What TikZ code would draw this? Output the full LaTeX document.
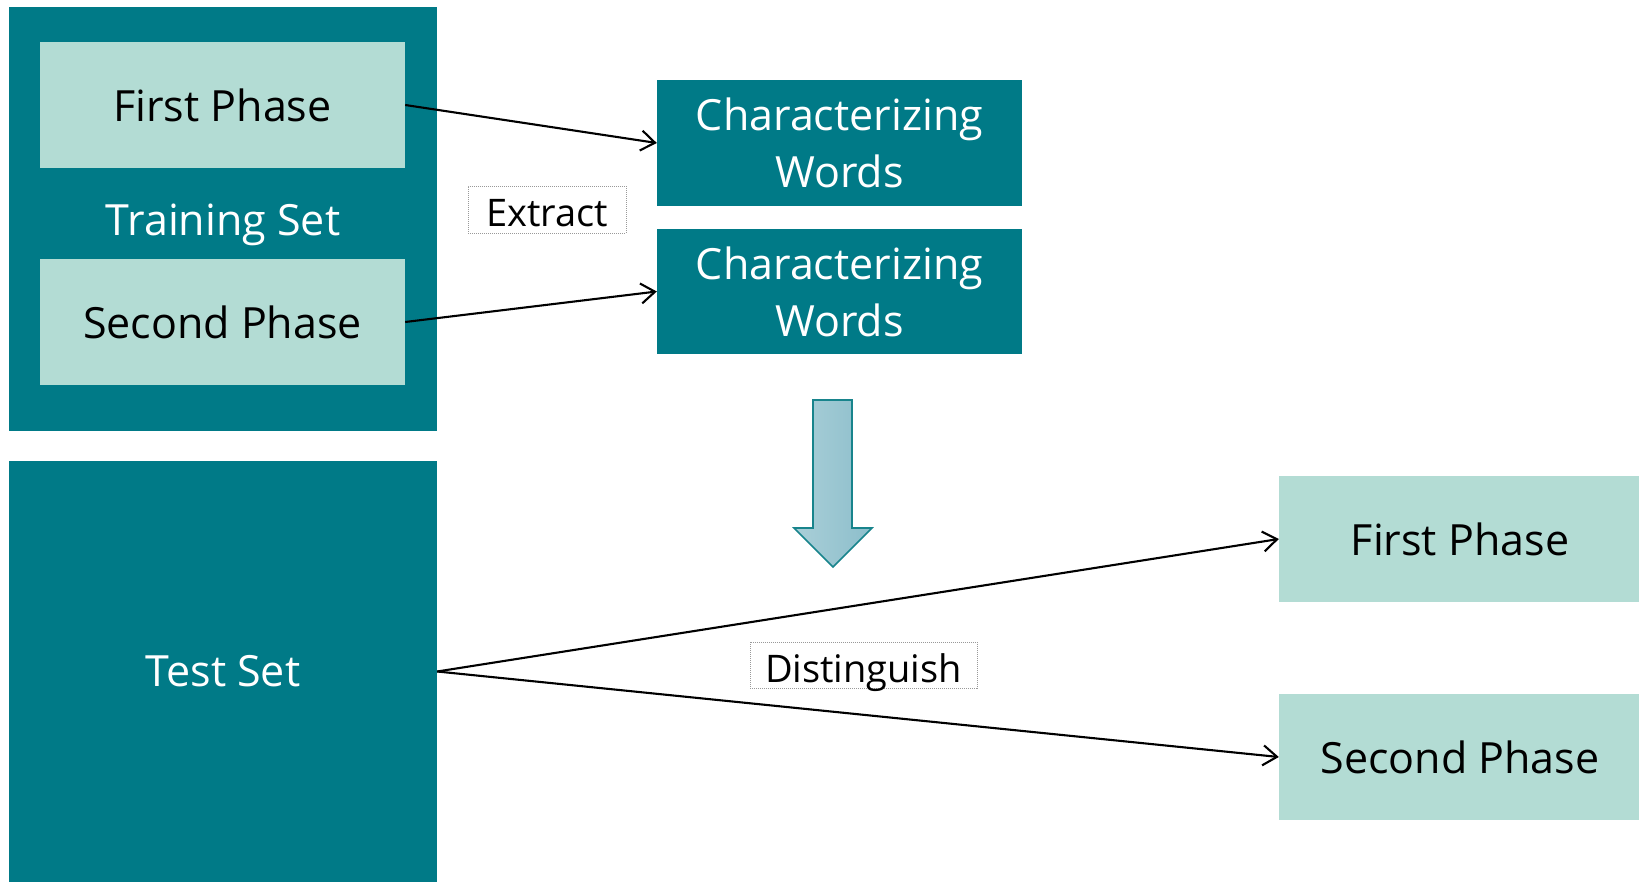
\documentclass[tikz,border=0pt]{standalone}
\usepackage{fontspec}
\setmainfont{Open Sans}
\usetikzlibrary{arrows.meta}
\definecolor{tealdark}{RGB}{0,122,135}
\definecolor{tealpale}{RGB}{179,220,212}
\definecolor{arrowlight}{RGB}{170,207,216}
\definecolor{arrowmid}{RGB}{140,190,203}
\definecolor{arrowedge}{RGB}{24,132,140}
\begin{document}
\begin{tikzpicture}[x=1pt,y=-1pt,
  bigtext/.style={font=\fontsize{43}{57}\selectfont},
  setbox/.style={fill=tealdark,draw=none,inner sep=0pt},
  phasebox/.style={fill=tealpale,draw=none,inner sep=0pt,text=black,bigtext,
    minimum width=365pt,minimum height=126pt},
  wordbox/.style={fill=tealdark,draw=none,inner sep=0pt,text=white,bigtext,
    minimum width=365pt,minimum height=126pt,align=center},
  tagbox/.style={draw=gray!80,line width=0.6pt,dash pattern=on 1pt off 1pt,
    fill=white,inner sep=0pt,font=\fontsize{38}{46}\selectfont,
    text height=34pt,text depth=0pt},
  link/.style={line width=2.1pt,-{Straight Barb[length=14pt,width=20pt,line width=2.1pt]}}
]
\useasboundingbox (0,0) rectangle (1639,882);

% training set with its two phases
\node[setbox,minimum width=428pt,minimum height=424pt] (train) at (223,219) {};
\node[phasebox] (fp) at (222.5,105) {First Phase};
\node[phasebox] (sp) at (222.5,322) {Second Phase};
\node[text=white,bigtext] (traintxt) at (223,225) {Training Set};

% test set
\node[setbox,minimum width=428pt,minimum height=421pt,text=white,bigtext] (test) at (223,671.5) {Test Set};

% extracted words
\node[wordbox] (cw1) at (839.5,143) {Characterizing\\Words};
\node[wordbox,minimum height=125pt] (cw2) at (839.5,291.5) {Characterizing\\Words};

% predicted phases
\node[phasebox,minimum width=362pt] (rfp) at (1460,539) {First Phase};
\node[phasebox,minimum width=362pt] (rsp) at (1460,757) {Second Phase};

% step labels
\node[tagbox,minimum width=158pt,minimum height=47pt] (extract) at (547,209.5) {Extract};
\node[tagbox,minimum width=227pt,minimum height=46pt] (dist) at (863.5,665) {Distinguish};

% connectors
\draw[link] (fp.east) -- (cw1.west);
\draw[link] (sp.east) -- (cw2.west);
\draw[link] (test.east) -- (rfp.west);
\draw[link] (test.east) -- (rsp.west);

% block arrow pointing down
\shade[left color=arrowlight,right color=arrowmid,draw=arrowedge,line width=1.6pt,line join=miter]
  (813,400) -- (852,400) -- (852,528) -- (872,528) -- (833,567) -- (794,528) -- (813,528) -- cycle;
\end{tikzpicture}
\end{document}
